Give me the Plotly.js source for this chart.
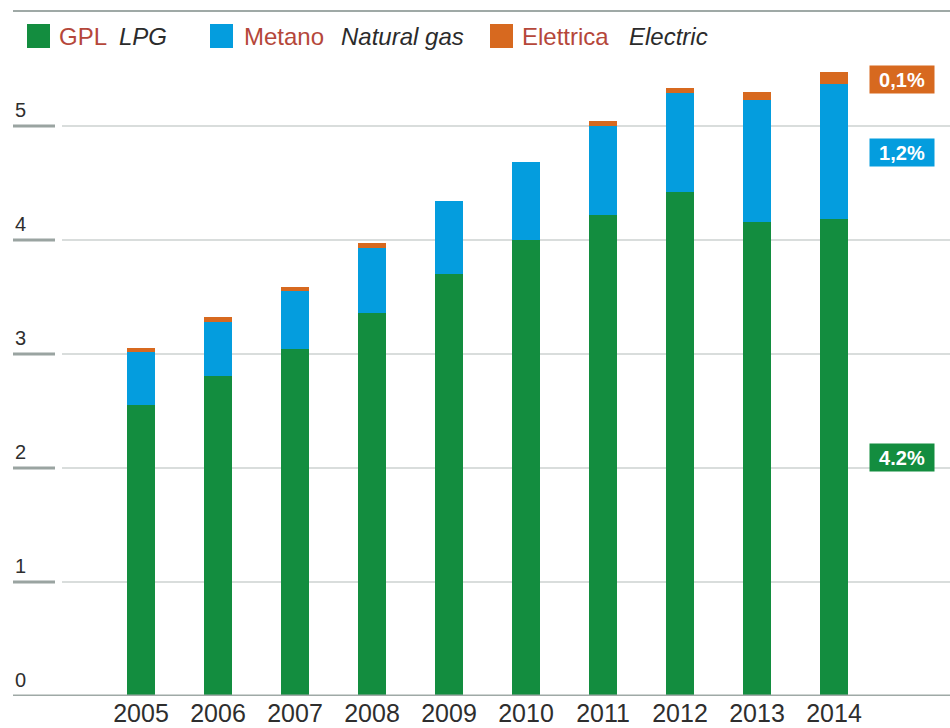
<!DOCTYPE html>
<html>
<head>
<meta charset="utf-8">
<script src="https://cdn.plot.ly/plotly-3.0.1.min.js"></script>
<style>html,body{margin:0;padding:0;background:#fff;}#chart{width:950px;height:728px;}</style>
</head>
<body>
<div id="chart"></div>
<script>
// ---- data ----
const years = ['2005','2006','2007','2008','2009','2010','2011','2012','2013','2014'];
const lpg      = [2.55, 2.81, 3.04, 3.36, 3.70, 4.00, 4.22, 4.42, 4.16, 4.18];
const cng      = [0.47, 0.47, 0.51, 0.57, 0.64, 0.68, 0.78, 0.87, 1.07, 1.19];
const electric = [0.035,0.045,0.04, 0.045,0.0,  0.0,  0.045,0.044,0.065,0.10];
const yTicks = [0, 1, 2, 3, 4, 5];
const seriesIt = ['GPL', 'Metano', 'Elettrica'];
const seriesEn = ['LPG', 'Natural gas', 'Electric'];
const shareLabels = ['4.2%', '1,2%', '0,1%'];

// ---- styles / geometry ----
const colors = ['#138d3f', '#049dde', '#d7691f'];
const W = 950, H = 728, L = 13, R = 0, T = 60, B = 32;
const plotW = W - L - R, plotH = H - T - B;
const px = x => (x - L) / plotW;       // pixel -> paper x
const py = y => (H - B - y) / plotH;   // pixel -> paper y
const font = 'Liberation Sans, Arial, sans-serif';

const traces = [lpg, cng, electric].map((v, i) => ({
  type: 'bar', x: years, y: v, name: seriesEn[i],
  marker: {color: colors[i], line: {width: 0}},
  hoverinfo: 'x+y'
}));

const shapes = [];
const annotations = [];

// gridlines and tick marks
yTicks.forEach(t => {
  if (t === 0) {
    shapes.push({type:'line', xref:'paper', yref:'y', x0:0, x1:1, y0:0, y1:0,
      line:{color:'#9fa9a6', width:3}, layer:'above'});
  } else {
    shapes.push({type:'line', xref:'paper', yref:'y', x0:0, x1:px(55), y0:t, y1:t,
      line:{color:'#9aa4a1', width:3}, layer:'below'});
    shapes.push({type:'line', xref:'paper', yref:'y', x0:px(62), x1:1, y0:t, y1:t,
      line:{color:'#d9dddc', width:2}, layer:'below'});
  }
  annotations.push({xref:'paper', yref:'y', x:0, y:t, xanchor:'left', yanchor:'bottom',
    yshift:3, text:String(t), showarrow:false, font:{family:font, size:20, color:'#2e2e2e'}});
});

// top rule
shapes.push({type:'line', xref:'paper', yref:'paper', x0:0, x1:1, y0:py(11), y1:py(11),
  line:{color:'#9fa9a6', width:2}});

// legend
const legSq = [27, 210, 490];
const legIt = [57, 242, 520];
const legEn = [117, 339, 627];
for (let i = 0; i < 3; i++) {
  shapes.push({type:'rect', xref:'paper', yref:'paper', x0:px(legSq[i]), x1:px(legSq[i]+23),
    y0:py(48), y1:py(24), fillcolor:colors[i], line:{width:0}});
  annotations.push({xref:'paper', yref:'paper', x:px(legIt[i]), y:py(36), xanchor:'left', yanchor:'middle',
    text:seriesIt[i], showarrow:false, font:{family:font, size:24, color:'#b5473a'}});
  annotations.push({xref:'paper', yref:'paper', x:px(legEn[i]), y:py(36), xanchor:'left', yanchor:'middle',
    text:'<i>'+seriesEn[i]+'</i>', showarrow:false, font:{family:font, size:24, color:'#2b2b2b'}});
}

// share labels on the right
const shareY = [457, 152, 79];
for (let i = 0; i < 3; i++) {
  annotations.push({xref:'paper', yref:'paper', x:px(902), y:py(shareY[i]), xanchor:'center', yanchor:'middle',
    text:'<b>'+shareLabels[i]+'</b>', showarrow:false, bgcolor:colors[i], borderpad:2,
    width:60, height:23, font:{family:font, size:20, color:'#fff'}});
}

const layout = {
  width: W, height: H,
  margin: {l:L, r:R, t:T, b:B},
  paper_bgcolor:'#fff', plot_bgcolor:'#fff',
  barmode:'stack', bargap:0.64, showlegend:false,
  xaxis: {type:'category', range:[-1.662, 10.506], showgrid:false, zeroline:false, showline:false,
    ticks:'', tickfont:{family:'Liberation Sans Narrow, Arial Narrow, Liberation Sans, sans-serif', size:25, color:'#2e2e2e'}},
  yaxis: {range:[0, plotH/114], showgrid:false, zeroline:false, showline:false, showticklabels:false, ticks:''},
  shapes: shapes, annotations: annotations
};

Plotly.newPlot('chart', traces, layout, {displayModeBar:false, staticPlot:true});
</script>
</body>
</html>
